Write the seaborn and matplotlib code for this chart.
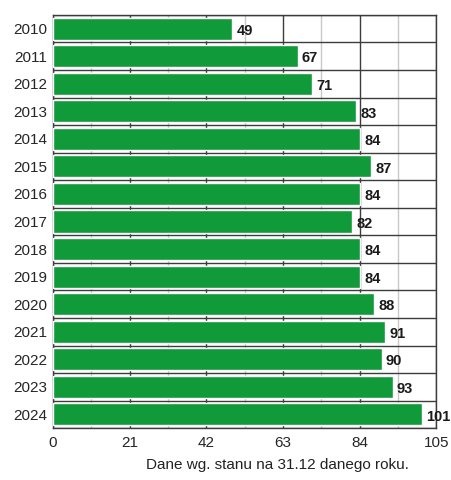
import matplotlib
matplotlib.use("Agg")
import matplotlib.pyplot as plt
import numpy as np
import pandas as pd
import seaborn as sns

years = ["2010", "2011", "2012", "2013", "2014", "2015", "2016", "2017",
         "2018", "2019", "2020", "2021", "2022", "2023", "2024"]
values = [49, 67, 71, 83, 84, 87, 84, 82, 84, 84, 88, 91, 90, 93, 101]
x_ticks = [0, 21, 42, 63, 84, 105]
footnote = "Dane wg. stanu na 31.12 danego roku."

sns.set_theme(style="white")
plt.rcParams["font.family"] = ["Liberation Sans", "DejaVu Sans"]

df = pd.DataFrame({"year": years, "value": values})

fig = plt.figure(figsize=(4.51, 4.80), dpi=100)
ax = fig.add_axes([0.1175, 0.108, 0.85, 0.861])

sns.barplot(data=df, x="value", y="year", orient="h", color="#109a3a",
            saturation=1, width=0.8, ax=ax, zorder=3)

ax.set_xlim(0, 105)
ax.set_ylim(len(years) - 0.5, -0.5)
ax.set_xticks(x_ticks)
ax.set_xticks(np.arange(10.5, 105, 21), minor=True)
ax.set_yticks(np.arange(-0.5, len(years)), minor=True)

ax.xaxis.grid(True, which="major", color="#3c3c3c", linewidth=1.0, zorder=0)
ax.xaxis.grid(True, which="minor", color="#c8c8c8", linewidth=1.0, zorder=0)
ax.yaxis.grid(True, which="minor", color="#3c3c3c", linewidth=1.0, zorder=0)
ax.yaxis.grid(False, which="major")
ax.set_axisbelow(True)

ax.tick_params(axis="x", which="major", direction="inout", length=7,
               width=1, color="#3c3c3c", labelsize=11, pad=2)
ax.tick_params(axis="x", which="minor", length=0)
ax.tick_params(axis="y", which="major", length=0, labelsize=11, pad=4)
ax.tick_params(axis="y", which="minor", direction="inout", length=6,
               width=1, color="#3c3c3c")

for spine in ax.spines.values():
    spine.set_color("#3c3c3c")
    spine.set_linewidth(1.0)

ax.set_xlabel("")
ax.set_ylabel("")

for i, v in enumerate(values):
    ax.text(v + 1.2, i + 0.08, str(v), va="center", ha="left",
            fontsize=10.5, fontweight="bold", color="#1a1a1a", zorder=4)

fig.text(0.615, 0.031, footnote, ha="center", va="center", fontsize=11,
         color="#222222")

fig.savefig("out.png", dpi=100)
